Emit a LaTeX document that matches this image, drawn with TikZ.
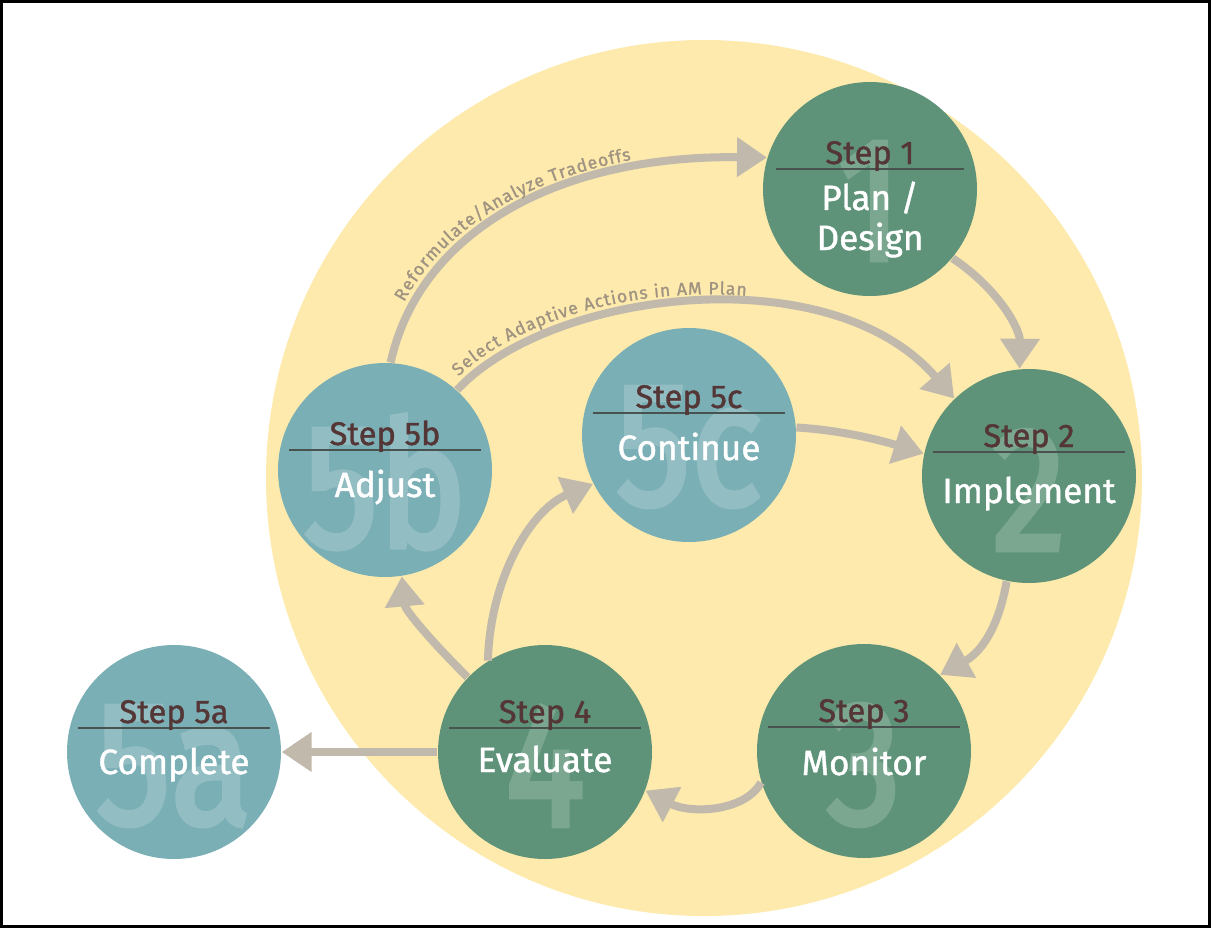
\documentclass[tikz,border=0pt]{standalone}
\usepackage{fontspec}
\setmainfont{Fira Sans}
\newfontfamily\labelfont{Fira Sans}[FakeBold=1.2]
\newfontfamily\ghostfont{Fira Sans}[FakeBold=3]
\usepackage{tikz}
\usetikzlibrary{arrows.meta,positioning,calc,decorations.text}
\definecolor{bgyellow}{RGB}{253,234,172}
\definecolor{stepgreen}{RGB}{94,147,121}
\definecolor{stepteal}{RGB}{122,175,181}
\definecolor{flowgray}{RGB}{192,185,172}
\definecolor{flowtext}{RGB}{160,147,130}
\definecolor{steptext}{RGB}{84,54,54}
\definecolor{dividergray}{RGB}{72,82,78}

\begin{document}
\begin{tikzpicture}[x=0.1mm, y=-0.1mm,
    every node/.style={font=\labelfont\fontsize{10}{11.4}\selectfont},
    stepcirc/.style={circle, minimum size=21.4mm, inner sep=0pt},
    ghost/.style={font=\ghostfont\fontsize{50}{50}\selectfont, inner sep=0pt, xscale=0.85, transform shape},
    steplbl/.style={text=steptext, anchor=base, inner sep=0pt, font=\labelfont\fontsize{9.3}{11}\selectfont},
    namelbl/.style={text=white, anchor=base, inner sep=0pt, align=center},
    divider/.style={draw=dividergray, line width=0.4pt},
    flow/.style={draw=flowgray, line width=0.8mm, -{Triangle[length=3mm, width=3.8mm]}},
    flowlabel/.style={decorate, decoration={text along path, raise=2.4pt, text align={#1, fit to path}}},
]
\useasboundingbox (0,0) rectangle (1211,928);
\draw[black, fill=white, line width=0.25mm] (1.5,1.5) rectangle (1209.5,926.5);

% big background circle
\fill[bgyellow] (704,478) circle[radius=43.8mm];

% step circles
\node[stepcirc, fill=stepgreen] (s1) at (870,189) {};
\node[stepcirc, fill=stepgreen] (s2) at (1029,476) {};
\node[stepcirc, fill=stepgreen] (s3) at (864,751) {};
\node[stepcirc, fill=stepgreen] (s4) at (545,752) {};
\node[stepcirc, fill=stepteal] (s5a) at (174,752) {};
\node[stepcirc, fill=stepteal] (s5b) at (385,470) {};
\node[stepcirc, fill=stepteal] (s5c) at (689,435) {};

% ghost numbers
\node[ghost, text=stepgreen!82!white] (g1) at ($(s1)+(0,12)$) {1};
\node[ghost, text=stepgreen!82!white] (g2) at ($(s2)+(0,14)$) {2};
\node[ghost, text=stepgreen!82!white] (g3) at ($(s3)+(0,14)$) {3};
\node[ghost, text=stepgreen!82!white] (g4) at ($(s4)+(0,14)$) {4};
\node[ghost, text=stepteal!82!white] (g5a) at ($(s5a)+(0,14)$) {5a};
\node[ghost, text=stepteal!82!white] (g5b) at ($(s5b)+(0,12)$) {5b};
\node[ghost, text=stepteal!82!white] (g5c) at ($(s5c)+(0,12)$) {5c};

% dividers
\draw[divider] ($(s1)+(-94,-20)$) -- ($(s1)+(94,-20)$);
\draw[divider] ($(s2)+(-96,-24)$) -- ($(s2)+(96,-24)$);
\draw[divider] ($(s3)+(-96,-24)$) -- ($(s3)+(96,-24)$);
\draw[divider] ($(s4)+(-96,-24)$) -- ($(s4)+(96,-24)$);
\draw[divider] ($(s5a)+(-96,-24)$) -- ($(s5a)+(96,-24)$);
\draw[divider] ($(s5b)+(-96,-20)$) -- ($(s5b)+(96,-20)$);
\draw[divider] ($(s5c)+(-96,-22)$) -- ($(s5c)+(96,-22)$);

% labels
\node[steplbl] (s1-step) at ($(s1)+(0,-25)$) {Step 1};
\node[namelbl] (s1-name) at ($(s1)+(0,61)$) {Plan /\\Design};
\node[steplbl] (s2-step) at ($(s2)+(0,-29)$) {Step 2};
\node[namelbl] (s2-name) at ($(s2)+(0,27)$) {Implement};
\node[steplbl] (s3-step) at ($(s3)+(0,-29)$) {Step 3};
\node[namelbl] (s3-name) at ($(s3)+(0,24)$) {Monitor};
\node[steplbl] (s4-step) at ($(s4)+(0,-29)$) {Step 4};
\node[namelbl] (s4-name) at ($(s4)+(0,20)$) {Evaluate};
\node[steplbl] (s5a-step) at ($(s5a)+(0,-29)$) {Step 5a};
\node[namelbl] (s5a-name) at ($(s5a)+(0,22)$) {Complete};
\node[steplbl] (s5b-step) at ($(s5b)+(0,-25)$) {Step 5b};
\node[namelbl] (s5b-name) at ($(s5b)+(0,27)$) {Adjust};
\node[steplbl] (s5c-step) at ($(s5c)+(0,-27)$) {Step 5c};
\node[namelbl] (s5c-name) at ($(s5c)+(0,25)$) {Continue};

% flows
\draw[flow, postaction={flowlabel={left indent=6mm, right indent=13.5mm},
    decoration={text={|\labelfont\fontsize{5}{6}\selectfont\color{flowtext}|Reformulate/Analyze Tradeoffs}}}]
    (s5b.87) .. controls (420,230) and (560,155) .. (s1.163);
\draw[flow, postaction={flowlabel={left indent=1mm, right indent=23.5mm},
    decoration={text={|\labelfont\fontsize{5}{6}\selectfont\color{flowtext}|Select Adaptive Actions in AM Plan}}}]
    (s5b.48) .. controls (550,290) and (830,255) .. (s2.134);
\draw[flow] (s1.-40) .. controls (1000,290) and (1020,330) .. (s2.95);
\draw[flow] (s2.-102) .. controls (1000,620) and (985,650) .. (s3.45);
\draw[flow] (s3.197) .. controls (745,812) and (690,814) .. (s4.-21);
\draw[flow] (s4.west) -- (s5a.east);
\draw[flow] (s4.136) .. controls (430,640) and (405,610) .. (s5b.-81);
\draw[flow] (s4.122) .. controls (490,580) and (530,510) .. (s5c.207);
\draw[flow] (s5c.4) .. controls (840,430) and (880,440) .. (s2.168);
\end{tikzpicture}
\end{document}
